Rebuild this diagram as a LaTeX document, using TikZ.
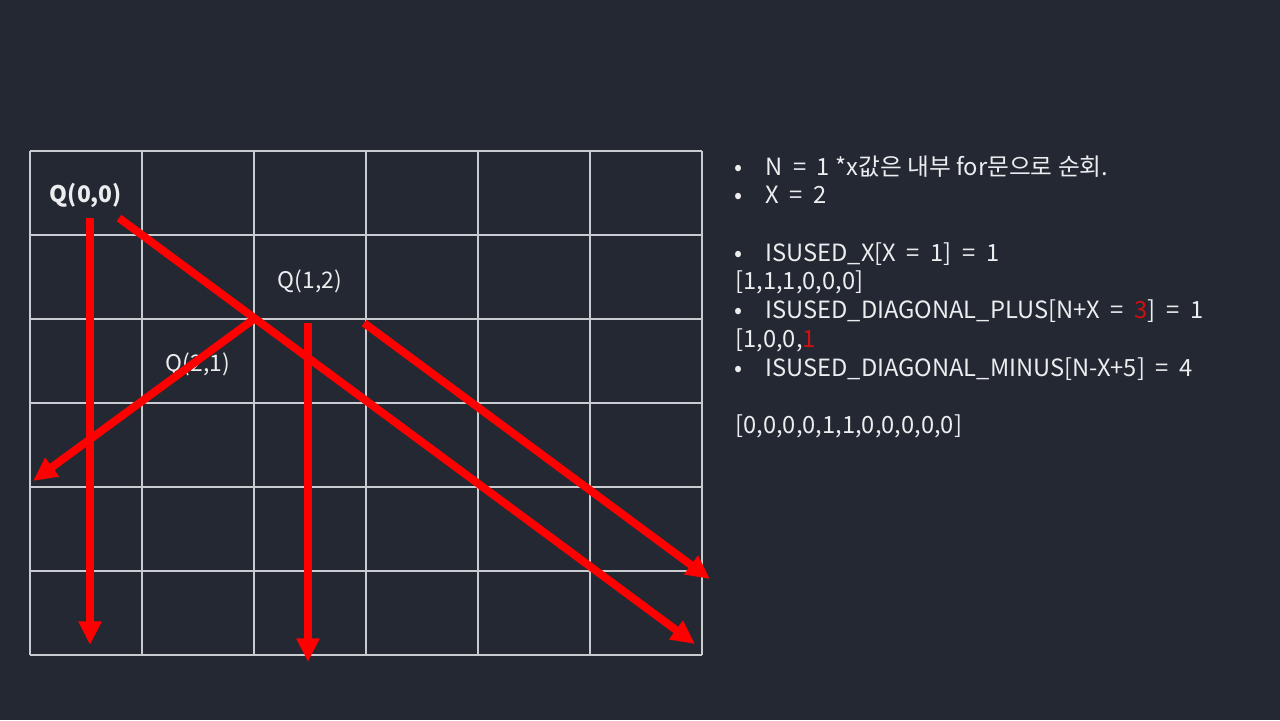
\documentclass[tikz,border=0pt]{standalone}
\usepackage{fontspec}
\setmainfont{Noto Sans CJK KR}
\usetikzlibrary{arrows.meta}
\definecolor{bgnavy}{HTML}{232832}
\definecolor{gridgray}{HTML}{C8CBD0}
\definecolor{txtwhite}{HTML}{ECEDEF}
\definecolor{markred}{HTML}{D01010}
\tikzset{
  gridline/.style={line width=0.7pt, color=gridgray},
  redarrow/.style={line width=4.5pt, color=red, -{Triangle[length=13.5pt,width=12.5pt]}},
  qlabel/.style={text=txtwhite, font=\fontsize{13}{15}\selectfont, inner sep=0pt},
  notetext/.style={text=txtwhite, font=\fontsize{13.5}{16}\selectfont, anchor=base west, inner sep=0pt}
}

\begin{document}
\begin{tikzpicture}[x=0.02cm,y=-0.02cm]
			%%%%% START %%%%%
			
			\fill[bgnavy] (0,0) rectangle (1280,720);
			
			\foreach \i in {0,...,6} {
				\draw[gridline] (30+112*\i,151) -- (30+112*\i,655);
				\draw[gridline] (30,151+84*\i) -- (702,151+84*\i);
			}
			
			\node[qlabel, font=\fontsize{13}{15}\selectfont\bfseries] (q00) at (86,195) {Q(0,0)};
			\node[qlabel] (q12) at (310,281) {Q(1,2)};
			\node[qlabel] (q21) at (198,364) {Q(2,1)};
			
			\coordinate (a1s) at (90,218);
			\coordinate (a1e) at (90,645);
			\coordinate (a2s) at (119,218);
			\coordinate (a2e) at (695,644);
			\coordinate (a3s) at (254,319);
			\coordinate (a3e) at (33,481);
			\coordinate (a4s) at (308,323);
			\coordinate (a4e) at (308,662);
			\coordinate (a5s) at (364,323);
			\coordinate (a5e) at (710,579);
			
			\draw[redarrow] (a1s) -- (a1e);
			\draw[redarrow] (a2s) -- (a2e);
			\draw[redarrow] (a3s) -- (a3e);
			\draw[redarrow] (a4s) -- (a4e);
			\draw[redarrow] (a5s) -- (a5e);
			
			\node[notetext] (b1) at (734,175) {•};
			\node[notetext] (t1) at (765,175) {N\ \ =\ \ 1 *x값은 내부 for문으로 순회.};
			\node[notetext] (b2) at (734,203) {•};
			\node[notetext] (t2) at (765,203) {X\ \ =\ \ 2};
			\node[notetext] (b3) at (734,261) {•};
			\node[notetext] (t3) at (765,261) {ISUSED\_X[X\ \ =\ \ 1]\ \ =\ \ 1};
			\node[notetext] (t4) at (735,289) {[1,1,1,0,0,0]};
			\node[notetext] (b5) at (734,318) {•};
			\node[notetext] (t5) at (765,318) {ISUSED\_DIAGONAL\_PLUS[N+X\ \ =\ \ {\color{markred}3}]\ \ =\ \ 1};
			\node[notetext] (t6) at (735,347) {[1,0,0,{\color{markred}1}};
			\node[notetext] (b7) at (734,376) {•};
			\node[notetext] (t7) at (765,376) {ISUSED\_DIAGONAL\_MINUS[N-X+5]\ \ =\ \ 4};
			\node[notetext] (t8) at (735,433) {[0,0,0,0,1,1,0,0,0,0,0]};
			
			%%%%% END %%%%%
\end{tikzpicture}
\end{document}
